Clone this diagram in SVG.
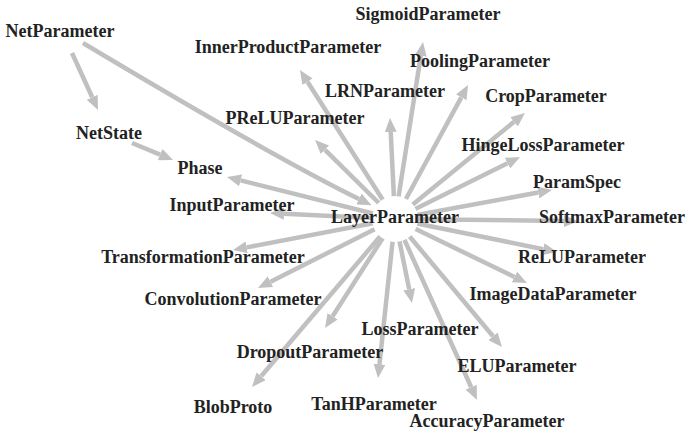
<svg xmlns="http://www.w3.org/2000/svg" width="687" height="433" viewBox="0 0 687 433">
<style>
.e{stroke:#c0c0c0;stroke-width:4.5;fill:none;marker-end:url(#ah)}
.t{font-family:"Liberation Serif","Times New Roman",serif;font-weight:bold;font-size:18px;fill:#222;text-anchor:middle}
</style>
<defs>
<marker id="ah" markerUnits="userSpaceOnUse" markerWidth="14" markerHeight="12" viewBox="0 0 14 12" refX="0" refY="6" orient="auto">
<path d="M0,0 L14,6 L0,12 z" fill="#c0c0c0"/>
</marker>
</defs>
<rect width="687" height="433" fill="#fff"/>
<g id="edges">
<line class="e" x1="72" y1="53" x2="92.2" y2="97.3"/>
<path class="e" d="M83,43 C200,113 300,170 359,199"/>
<line class="e" x1="132" y1="143" x2="160.1" y2="154.6"/>
<line class="e" x1="395" y1="219" x2="307.5" y2="81.8"/>
<line class="e" x1="395" y1="219" x2="420.8" y2="55.8"/>
<line class="e" x1="395" y1="219" x2="461.3" y2="97.3"/>
<line class="e" x1="395" y1="219" x2="390.7" y2="132"/>
<line class="e" x1="395" y1="219" x2="514.1" y2="121.8"/>
<line class="e" x1="395" y1="219" x2="325" y2="149.8"/>
<line class="e" x1="395" y1="219" x2="507.5" y2="163.2"/>
<line class="e" x1="395" y1="219" x2="240.6" y2="180.4"/>
<line class="e" x1="395" y1="219" x2="538.2" y2="192.5"/>
<line class="e" x1="395" y1="219" x2="284" y2="213.7"/>
<line class="e" x1="395" y1="219" x2="564" y2="221"/>
<line class="e" x1="395" y1="219" x2="543.3" y2="249.2"/>
<line class="e" x1="395" y1="219" x2="246.7" y2="247.4"/>
<line class="e" x1="395" y1="219" x2="514.4" y2="276.9"/>
<line class="e" x1="395" y1="219" x2="270.5" y2="281.7"/>
<line class="e" x1="395" y1="219" x2="409.2" y2="289.3"/>
<line class="e" x1="395" y1="219" x2="332.6" y2="316.2"/>
<line class="e" x1="395" y1="219" x2="493" y2="336.3"/>
<line class="e" x1="395" y1="219" x2="379.5" y2="364.1"/>
<line class="e" x1="395" y1="219" x2="471.2" y2="387.2"/>
<line class="e" x1="395" y1="219" x2="261.1" y2="376.3"/>
</g>
<g id="LayerParameter"><circle cx="395" cy="219" r="23" fill="#fff"/><text class="t" x="395" y="223">LayerParameter</text></g>
<g id="NetParameter"><text class="t" x="60" y="37">NetParameter</text></g>
<g id="InnerProductParameter"><text class="t" x="288" y="53">InnerProductParameter</text></g>
<g id="SigmoidParameter"><text class="t" x="428" y="20">SigmoidParameter</text></g>
<g id="PoolingParameter"><text class="t" x="480" y="67">PoolingParameter</text></g>
<g id="LRNParameter"><text class="t" x="385" y="97">LRNParameter</text></g>
<g id="CropParameter"><text class="t" x="546" y="102">CropParameter</text></g>
<g id="PReLUParameter"><text class="t" x="295" y="124">PReLUParameter</text></g>
<g id="HingeLossParameter"><text class="t" x="543" y="151">HingeLossParameter</text></g>
<g id="NetState"><text class="t" x="109" y="139">NetState</text></g>
<g id="Phase"><text class="t" x="200" y="174">Phase</text></g>
<g id="ParamSpec"><text class="t" x="577" y="188">ParamSpec</text></g>
<g id="InputParameter"><text class="t" x="232" y="211">InputParameter</text></g>
<g id="SoftmaxParameter"><text class="t" x="612" y="223">SoftmaxParameter</text></g>
<g id="TransformationParameter"><text class="t" x="203" y="263">TransformationParameter</text></g>
<g id="ReLUParameter"><text class="t" x="582" y="263">ReLUParameter</text></g>
<g id="ConvolutionParameter"><text class="t" x="233" y="305">ConvolutionParameter</text></g>
<g id="ImageDataParameter"><text class="t" x="553" y="300">ImageDataParameter</text></g>
<g id="LossParameter"><text class="t" x="420" y="335">LossParameter</text></g>
<g id="DropoutParameter"><text class="t" x="310" y="358">DropoutParameter</text></g>
<g id="ELUParameter"><text class="t" x="517" y="372">ELUParameter</text></g>
<g id="BlobProto"><text class="t" x="233" y="413">BlobProto</text></g>
<g id="TanHParameter"><text class="t" x="374" y="410">TanHParameter</text></g>
<g id="AccuracyParameter"><text class="t" x="487" y="427">AccuracyParameter</text></g>
</svg>
